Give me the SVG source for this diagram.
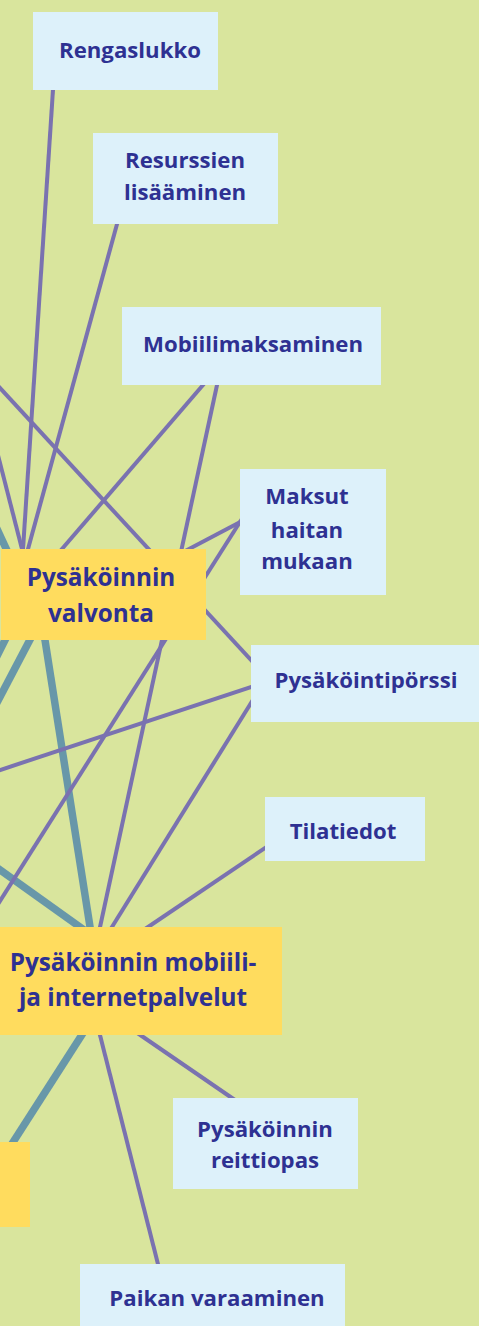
<svg xmlns="http://www.w3.org/2000/svg" width="479" height="1326" viewBox="0 0 479 1326">
<style>
.p{stroke:#7a72b0;stroke-width:4;fill:none}
.t{stroke:#6897a9;stroke-width:7.5;fill:none}
.b{fill:#ddf1fa}
.y{fill:#ffdc5e}
text{font-family:"Open Sans","Noto Sans","Liberation Sans",sans-serif;font-weight:700;fill:#2e3192;text-anchor:middle}
.s{font-size:22.2px}
.l{font-size:24.3px}
</style>
<rect width="479" height="1326" fill="#d9e59d"/>
<g id="connectors">
<line class="t" x1="43.4" y1="630" x2="91.3" y2="935"/>
<line class="t" x1="-5" y1="866.4" x2="88" y2="932.7"/>
<line class="t" x1="85" y1="1030" x2="8" y2="1150"/>
<line class="t" x1="55" y1="592" x2="-10" y2="716"/>
<line class="t" x1="30" y1="600" x2="-10" y2="514"/>
<line class="t" x1="30" y1="590" x2="-10" y2="670"/>
<line class="p" x1="53.3" y1="85" x2="22.3" y2="560"/>
<line class="p" x1="118.4" y1="219" x2="25" y2="560"/>
<line class="p" x1="-5" y1="443.5" x2="24.8" y2="560"/>
<line class="p" x1="-5" y1="382.6" x2="256" y2="665.4"/>
<line class="p" x1="207.3" y1="380" x2="52.5" y2="560"/>
<line class="p" x1="218.1" y1="380" x2="98.3" y2="935"/>
<line class="p" x1="245" y1="519.4" x2="180" y2="553.8"/>
<line class="p" x1="245" y1="514" x2="-5" y2="909"/>
<line class="p" x1="256" y1="685.3" x2="-5" y2="771.7"/>
<line class="p" x1="254.7" y1="697" x2="107" y2="935"/>
<line class="p" x1="270" y1="844.6" x2="136.2" y2="935"/>
<line class="p" x1="133" y1="1030" x2="240" y2="1103.5"/>
<line class="p" x1="98.7" y1="1030" x2="160" y2="1272"/>
</g>
<g id="rengaslukko"><rect class="b" x="33" y="12" width="185" height="78"/><text class="s" x="130" y="58">Rengaslukko</text></g>
<g id="resurssien"><rect class="b" x="93" y="133" width="185" height="91"/><text class="s" x="185" y="168">Resurssien</text><text class="s" x="185" y="200">lisääminen</text></g>
<g id="mobiilimaksaminen"><rect class="b" x="122" y="307" width="259" height="78"/><text class="s" x="253" y="352">Mobiilimaksaminen</text></g>
<g id="maksut"><rect class="b" x="240" y="469" width="146" height="126"/><text class="s" x="307" y="504">Maksut</text><text class="s" x="307" y="538">haitan</text><text class="s" x="307" y="569">mukaan</text></g>
<g id="valvonta"><rect class="y" x="1" y="549" width="205" height="91"/><text class="l" x="101" y="586">Pysäköinnin</text><text class="l" x="101" y="622">valvonta</text></g>
<g id="porssi"><rect class="b" x="251" y="645" width="228" height="77"/><text class="s" x="366" y="688">Pysäköintipörssi</text></g>
<g id="tilatiedot"><rect class="b" x="265" y="797" width="160" height="64"/><text class="s" x="343" y="839">Tilatiedot</text></g>
<g id="internetpalvelut"><rect class="y" x="0" y="927" width="282" height="108"/><text class="l" x="133" y="971">Pysäköinnin mobiili-</text><text class="l" x="133" y="1006">ja internetpalvelut</text></g>
<g id="vasen"><rect class="y" x="0" y="1142" width="30" height="85"/></g>
<g id="reittiopas"><rect class="b" x="173" y="1098" width="185" height="91"/><text class="s" x="265" y="1137">Pysäköinnin</text><text class="s" x="265" y="1168">reittiopas</text></g>
<g id="paikan"><rect class="b" x="80" y="1264" width="265" height="70"/><text class="s" x="217" y="1306">Paikan varaaminen</text></g>
</svg>
